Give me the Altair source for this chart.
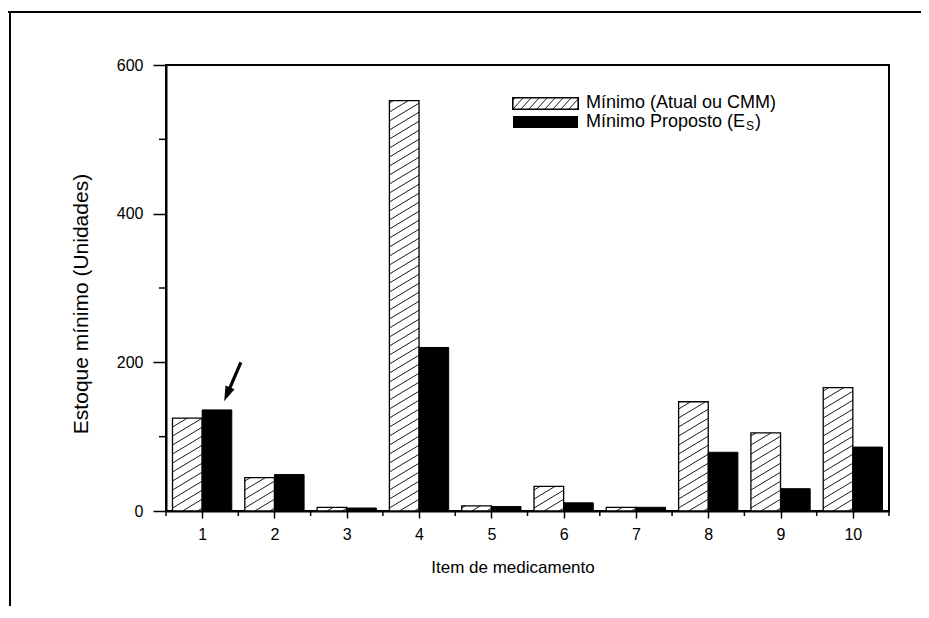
import altair as alt
import pandas as pd
import numpy as np

# ---------------- data ----------------
items = [1, 2, 3, 4, 5, 6, 7, 8, 9, 10]
minimo_atual = [125, 45, 5, 552, 7, 33, 5, 147, 105, 166]      # hatched
minimo_proposto = [136, 49, 4, 220, 6, 11, 5, 79, 30, 86]      # black
y_major = [0, 200, 400, 600]
y_minor = [100, 300, 500]
x_minor = [0.5, 1.5, 2.5, 3.5, 4.5, 5.5, 6.5, 7.5, 8.5, 9.5, 10.5]
arrow_tail = (1.535, 200)
arrow_head = (1.345, 157)
label_atual = "Mínimo (Atual ou CMM)"
label_proposto = "Mínimo Proposto (E"
x_title = "Item de medicamento"
y_title = "Estoque mínimo (Unidades)"

# ---------------- layout / style constants ----------------
W, H = 723, 446
XDOM = [0.5, 10.5]
YDOM = [0, 600]
PX_X = W / (XDOM[1] - XDOM[0])
PX_Y = H / (YDOM[1] - YDOM[0])
BW = 0.41            # bar width in item units
FONT = "Liberation Sans"

xs = alt.Scale(domain=XDOM, nice=False, zero=False)
ys = alt.Scale(domain=YDOM, nice=False)

bars = pd.DataFrame({"item": items, "atual": minimo_atual, "proposto": minimo_proposto})

# hatch lines for the hatched bars (derived from values)
S, D = 0.6, 9.0
hx0, hx1, hy0, hy1 = [], [], [], []
wpx = BW * PX_X
for it, val in zip(items, minimo_atual):
    hpx = val * PX_Y
    left = it - BW
    for k in range(-10, 120):
        c = k * D + 3
        u0 = max(0.0, -c / S)
        u1 = min(wpx, (hpx - c) / S)
        if u1 - u0 < 0.8:
            continue
        hx0.append(left + u0 / PX_X); hx1.append(left + u1 / PX_X)
        hy0.append((c + S * u0) / PX_Y); hy1.append((c + S * u1) / PX_Y)
hatch = pd.DataFrame({"x0": hx0, "x1": hx1, "y0": hy0, "y1": hy1})

# legend swatch hatch (pixel box converted to data coords)
LX0, LX1, LY0, LY1 = 347, 412, 33, 44
S2, D2 = 1.1, 8
lh = {"x0": [], "x1": [], "y0": [], "y1": []}
lw, lhgt = LX1 - LX0, LY1 - LY0
for k in range(-3, 12):
    c = k * D2
    u0 = max(0.0, c)
    u1 = min(lw, c + lhgt / S2)
    if u1 - u0 < 0.5:
        continue
    v0, v1 = S2 * (u0 - c), S2 * (u1 - c)
    lh["x0"].append(XDOM[0] + (LX0 + u0) / PX_X); lh["x1"].append(XDOM[0] + (LX0 + u1) / PX_X)
    lh["y0"].append((H - (LY1 - v0)) / PX_Y); lh["y1"].append((H - (LY1 - v1)) / PX_Y)
leg_hatch = pd.DataFrame(lh)

x_axis = alt.Axis(values=items, tickSize=7, tickWidth=1.5, labelFontSize=16, labelPadding=8,
                  domainWidth=2, grid=False, title=None, labelFont=FONT, format="d",
                  labelColor="black", tickColor="black", domainColor="black")
y_axis = alt.Axis(values=y_major, tickSize=13, tickWidth=1.5, labelFontSize=16, labelPadding=10,
                  domainWidth=2, grid=False, title=None, labelFont=FONT, format="d",
                  labelColor="black", tickColor="black", domainColor="black")


def X(f):
    return alt.X(f, scale=xs, axis=x_axis)


def Y(f):
    return alt.Y(f, scale=ys, axis=y_axis)


base = alt.Chart(bars).transform_calculate(a0=f"datum.item - {BW}", b1=f"datum.item + {BW}")

white_bars = base.mark_bar(fill="white", stroke=None).encode(
    x=X("a0:Q"), x2="item:Q", y=Y("atual:Q"), y2=alt.datum(0))

hatch_lines = alt.Chart(hatch).mark_rule(color="black", strokeWidth=0.9).encode(
    x=X("x0:Q"), x2="x1:Q", y=Y("y0:Q"), y2="y1:Q")

outline_bars = base.mark_bar(fill=None, stroke="black", strokeWidth=1.3).encode(
    x=X("a0:Q"), x2="item:Q", y=Y("atual:Q"), y2=alt.datum(0))

black_bars = base.mark_bar(fill="black", stroke="black", strokeWidth=1).encode(
    x=X("item:Q"), x2="b1:Q", y=Y("proposto:Q"), y2=alt.datum(0))

ym = alt.Chart(pd.DataFrame({"v": y_minor})).mark_rule(color="black", strokeWidth=1.5).encode(
    y=Y("v:Q"), x=alt.value(-7), x2=alt.value(0))

xm = alt.Chart(pd.DataFrame({"v": x_minor})).mark_rule(color="black", strokeWidth=1.5).encode(
    x=X("v:Q"), y=alt.value(H), y2=alt.value(H + 5))

arrow_df = pd.DataFrame({"x": [arrow_tail[0]], "y": [arrow_tail[1]],
                         "x2": [arrow_head[0]], "y2": [arrow_head[1]]})
arrow_shaft = alt.Chart(arrow_df).mark_rule(color="black", strokeWidth=3.2).encode(
    x=X("x:Q"), x2="x2:Q", y=Y("y:Q"), y2="y2:Q")
arrow_tip = alt.Chart(arrow_df).mark_point(shape="M0,-1L0.65,1L-0.65,1Z", filled=True,
                                           size=225, angle=203, color="black", opacity=1).encode(
    x=X("x2:Q"), y=Y("y2:Q"))

# legend
sw1 = alt.Chart(bars).mark_rect(fill="white", stroke="black", strokeWidth=1.2).encode(
    x=alt.value(LX0), x2=alt.value(LX1), y=alt.value(LY0), y2=alt.value(LY1))
sw1h = alt.Chart(leg_hatch).mark_rule(color="black", strokeWidth=0.9).encode(
    x=X("x0:Q"), x2="x1:Q", y=Y("y0:Q"), y2="y1:Q")
sw2 = alt.Chart(bars).mark_rect(fill="black").encode(
    x=alt.value(LX0), x2=alt.value(LX1), y=alt.value(51), y2=alt.value(63))


def txt(s, x, y, size, **kw):
    return alt.Chart(pd.DataFrame({"t": [s]})).mark_text(
        font=FONT, fontSize=size, fill="black", strokeWidth=0, fontWeight=400, **kw).encode(
        x=alt.value(x), y=alt.value(y), text="t:N")


t1 = txt(label_atual, 420, 43, 18, align="left", baseline="alphabetic")
t2 = txt(label_proposto, 420, 61.5, 18, align="left", baseline="alphabetic")
t2s = txt("S", 580, 65, 12, align="left", baseline="alphabetic")
t2e = txt(")", 589, 61.5, 18, align="left", baseline="alphabetic")
tx = txt(x_title, 347, 508, 17, align="center", baseline="alphabetic")
ty = txt(y_title, -84, 239, 21, align="center", baseline="middle", angle=270)

# outer figure frame
frame_top = alt.Chart(bars).mark_rule(color="black", strokeWidth=2).encode(
    x=alt.value(-158), x2=alt.value(W + 32), y=alt.value(-53))
frame_left = alt.Chart(bars).mark_rule(color="black", strokeWidth=2).encode(
    x=alt.value(-156), y=alt.value(-54), y2=alt.value(H + 95))

chart = alt.layer(
    white_bars, hatch_lines, outline_bars, black_bars, ym, xm,
    arrow_shaft, arrow_tip, sw1, sw1h, sw2, t1, t2, t2s, t2e, tx, ty,
    frame_top, frame_left,
).properties(
    width=W, height=H,
    padding={"left": 158, "top": 57, "right": 32, "bottom": 95},
    autosize=alt.AutoSizeParams(type="none"),
    background="white",
).configure_view(stroke="black", strokeWidth=2)

chart.save("out.html", embed_options={"renderer": "svg", "actions": False})
